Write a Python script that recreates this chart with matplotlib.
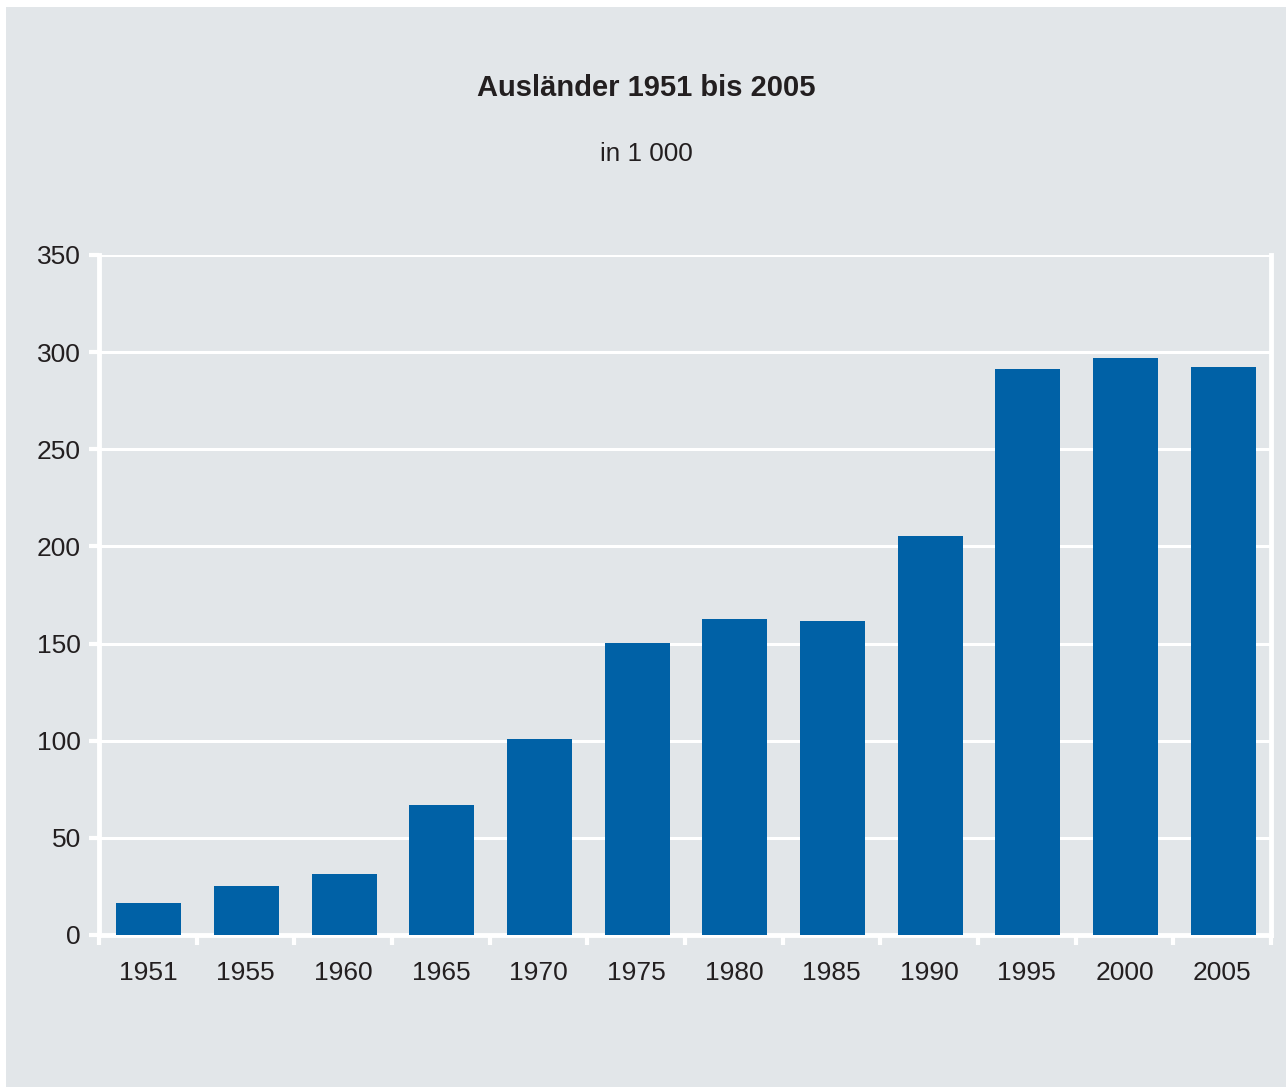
""" Auslaender 1951 bis 2005, bar chart. """

import matplotlib.pyplot as plt
from matplotlib.patches import Rectangle

years = ['1951', '1955', '1960', '1965', '1970', '1975',
         '1980', '1985', '1990', '1995', '2000', '2005']
auslaender = [16.5, 25.2, 31.4, 67.0, 101.0, 150.3,
              162.6, 161.6, 205.4, 291.3, 297.0, 292.3]

BG = '#e2e6e9'
BAR = '#0061a6'
TEXT = '#231f20'

plt.rcParams['font.family'] = ['Liberation Sans', 'DejaVu Sans']

fig = plt.figure(figsize=(12.87, 10.88), dpi=100)
fig.patch.set_facecolor('white')
# grey panel inside thin white margin
fig.patches.append(Rectangle((6 / 1287, 1 / 1088), 1 - 7 / 1287, 1 - 8 / 1088,
                             transform=fig.transFigure, facecolor=BG,
                             edgecolor='none', zorder=-5))

ax = fig.add_axes([99 / 1287, (1088 - 935) / 1088, 1172 / 1287, 680 / 1088])
ax.set_facecolor(BG)

x = range(len(years))
ax.bar([i + 0.01 for i in x], auslaender, width=0.665, color=BAR, zorder=3)

ax.set_xlim(-0.5, len(years) - 0.5)
ax.set_ylim(0, 350)
ax.set_yticks(range(0, 351, 50))
ax.yaxis.grid(True, color='white', linewidth=2.2, zorder=1)
ax.set_axisbelow(True)

ax.set_xticks(list(x))
ax.set_xticklabels(years)
ax.set_xticks([i - 0.5 for i in range(len(years) + 1)], minor=True)
ax.tick_params(axis='x', which='major', length=0, pad=19,
               labelsize=19, labelcolor=TEXT)
ax.tick_params(axis='x', which='minor', length=7, width=3, color='white')
ax.tick_params(axis='y', which='major', length=7, width=3, color='white',
               labelsize=19, labelcolor=TEXT, pad=6)

for side in ['left', 'right', 'bottom']:
    ax.spines[side].set_color('white')
    ax.spines[side].set_linewidth(3.5)
ax.spines['top'].set_visible(False)

fig.text(0.502, 1 - 88 / 1088, 'Ausländer 1951 bis 2005', ha='center',
         va='center', fontsize=21, fontweight='bold', color=TEXT)
fig.text(0.502, 1 - 154 / 1088, 'in 1 000', ha='center', va='center',
         fontsize=18.8, color=TEXT)

fig.savefig('out.png', dpi=100, facecolor=fig.get_facecolor())
